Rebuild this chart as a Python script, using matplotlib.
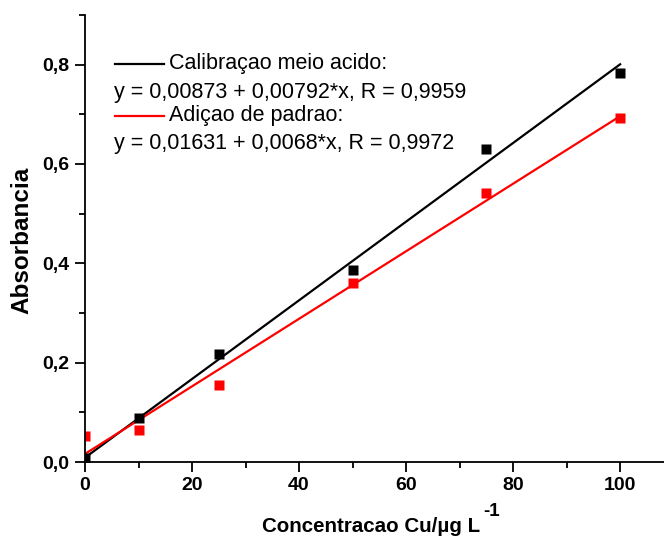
import matplotlib
matplotlib.use('Agg')
import matplotlib.pyplot as plt
from matplotlib.ticker import MultipleLocator, FuncFormatter

plt.rcParams['font.family'] = ['Liberation Sans', 'DejaVu Sans']

# Cu concentration (ug/L) and measured absorbance
conc = [0, 10, 25, 50, 75, 100]
abs_acid = [0.008, 0.088, 0.217, 0.386, 0.631, 0.784]
abs_addition = [0.052, 0.064, 0.155, 0.360, 0.541, 0.693]

# linear fits: intercept, slope
fit_acid = (0.00873, 0.00792)
fit_addition = (0.01631, 0.0068)

label_acid = 'Calibraçao meio acido:'
eq_acid = 'y = 0,00873 + 0,00792*x, R = 0,9959'
label_addition = 'Adiçao de padrao:'
eq_addition = 'y = 0,01631 + 0,0068*x, R = 0,9972'

fig = plt.figure(figsize=(6.64, 5.46), dpi=100)
ax = fig.add_axes([85 / 664, 84 / 546, 579 / 664, 447 / 546])

xs = [conc[0], conc[-1]]
ax.plot(xs, [fit_acid[0] + fit_acid[1] * x for x in xs], color='black', lw=1.6)
ax.plot(xs, [fit_addition[0] + fit_addition[1] * x for x in xs], color='red', lw=1.6)
ax.plot(conc, abs_acid, 's', color='black', ms=6.8, mec='none')
ax.plot(conc, abs_addition, 's', color='red', ms=6.8, mec='none')

ax.set_xlim(0, 108.2)
ax.set_ylim(0, 0.9)
for s in ['top', 'right']:
    ax.spines[s].set_visible(False)
for s in ['left', 'bottom']:
    ax.spines[s].set_linewidth(1.3)

ax.xaxis.set_major_locator(MultipleLocator(20))
ax.xaxis.set_minor_locator(MultipleLocator(10))
ax.yaxis.set_major_locator(MultipleLocator(0.2))
ax.yaxis.set_minor_locator(MultipleLocator(0.1))
ax.yaxis.set_major_formatter(FuncFormatter(lambda v, p: f'{v:.1f}'.replace('.', ',')))
ax.tick_params(which='major', direction='out', length=7, width=1.3, labelsize=14, pad=4)
ax.tick_params(which='minor', direction='out', length=4, width=1.3)
for lab in ax.get_xticklabels() + ax.get_yticklabels():
    lab.set_fontweight('bold')


def px(x, y):
    return x / 664, 1 - y / 546


# axis titles
fig.text(*px(480, 527), 'Concentracao Cu/µg L', fontsize=14.8, fontweight='bold',
         ha='right', va='center')
fig.text(*px(483, 511), '-1', fontsize=13.5, fontweight='bold', ha='left', va='center')
fig.text(*px(22, 240), 'Absorbancia', fontsize=17.5, fontweight='bold',
         rotation=90, ha='center', va='center')

# legend block with equations
for y, color, name, eq in [(64, 'black', label_acid, eq_acid),
                           (116, 'red', label_addition, eq_addition)]:
    x0, y0 = px(115, y)
    x1, _ = px(164, y)
    fig.add_artist(plt.Line2D([x0, x1], [y0, y0], color=color, lw=1.6))
    fig.text(*px(169, y), name, fontsize=15.5, va='center')
    fig.text(*px(114, y + 28), eq, fontsize=15.5, va='center')

fig.savefig('out.png', dpi=100)
